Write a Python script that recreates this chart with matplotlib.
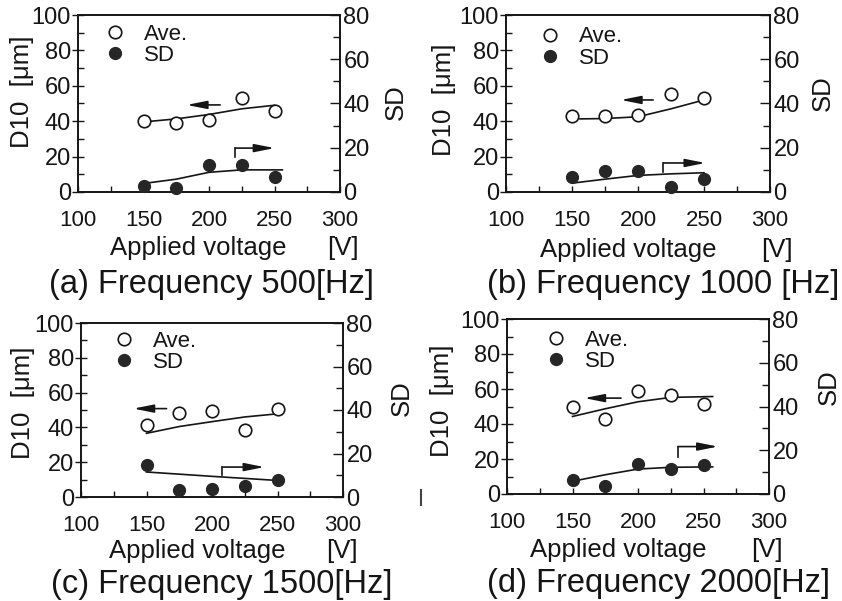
import matplotlib
matplotlib.use("Agg")
import matplotlib.pyplot as plt
from matplotlib.ticker import MultipleLocator
from matplotlib.lines import Line2D

plt.rcParams['font.family'] = ['Liberation Sans', 'DejaVu Sans']

INK = '#151515'

# ---------------- data ----------------
voltage = [150, 175, 200, 225, 250]

ave_a = [40.0, 39.0, 40.5, 53.0, 45.5]
sd_a = [2.8, 2.0, 12.0, 12.0, 7.0]
fit_ave_a_x = [156, 175, 200, 225, 250]
fit_ave_a = [40.0, 41.3, 43.8, 47.0, 49.0]
fit_sd_a_x = [152, 175, 200, 225, 256]
fit_sd_a = [4.0, 5.8, 8.9, 10.0, 10.0]

ave_b = [43.0, 43.0, 43.3, 55.4, 53.0]
sd_b = [6.6, 9.5, 9.5, 2.2, 6.0]
fit_ave_b_x = [156, 175, 200, 225, 250]
fit_ave_b = [41.3, 41.5, 42.5, 47.0, 52.0]
fit_sd_b_x = [150, 175, 200, 225, 250]
fit_sd_b = [4.0, 5.8, 7.5, 8.2, 8.7]

ave_c = [41.2, 48.3, 49.2, 38.7, 50.7]
sd_c = [14.6, 3.2, 3.8, 5.1, 7.8]
fit_ave_c_x = [150, 175, 200, 225, 250]
fit_ave_c = [36.6, 40.5, 43.3, 46.0, 47.8]
fit_sd_c_x = [150, 200, 250]
fit_sd_c = [11.5, 9.5, 7.6]

ave_d = [49.7, 43.0, 59.0, 56.7, 51.3]
sd_d = [6.5, 3.6, 13.9, 11.3, 13.3]
fit_ave_d_x = [150, 175, 200, 225, 257]
fit_ave_d = [44.3, 48.7, 52.7, 55.2, 55.7]
fit_sd_d_x = [150, 175, 200, 225, 257]
fit_sd_d = [5.8, 8.8, 11.4, 12.2, 12.4]

titles = ['(a) Frequency 500[Hz]', '(b) Frequency 1000 [Hz]',
          '(c) Frequency 1500[Hz]', '(d) Frequency 2000[Hz]']
x_ticks = [100, 150, 200, 250, 300]
left_ticks = [0, 20, 40, 60, 80, 100]
right_ticks = [0, 20, 40, 60, 80]

# ---------------- layout (pixel positions in the 842x601 figure) ----------------
W, H = 842, 601
axes_px = [(78, 15, 340, 192), (506, 15, 770, 192),
           (81, 323, 343, 497), (507, 319, 769, 494)]
# left arrow: (y, x_from, x_to); bracket arrow: (x, y0, y1, x_end)  [left-axis data units]
left_arrows = [(49.2, 208.5, 183), (52, 211.5, 187), (50.8, 165.3, 140), (54.8, 187, 159)]
right_arrows = [(220, 19.9, 24.8, 250), (219.3, 11.1, 16.4, 251), (208, 12.5, 17.2, 240), (230.4, 21.4, 27.1, 261)]
legend_px = [(115, 45), (550.3, 47.5), (124, 351.7), (556, 350.8)]
xlabel_px = [(198, 255), (628.5, 256.7), (197.5, 558.3), (618, 556.7)]
unit_px = [(343, 255), (777, 256.7), (342, 558.3), (767, 556.7)]
ylabel_px = [(22, 92), (444, 100), (23, 403), (442, 401)]
sdlabel_px = [(396, 102), (823, 93), (402, 398), (829, 387)]
title_px = [(211.7, 292.5), (663, 292.5), (221.7, 593.5), (659, 592)]

panels = [
    (ave_a, sd_a, fit_ave_a_x, fit_ave_a, fit_sd_a_x, fit_sd_a),
    (ave_b, sd_b, fit_ave_b_x, fit_ave_b, fit_sd_b_x, fit_sd_b),
    (ave_c, sd_c, fit_ave_c_x, fit_ave_c, fit_sd_c_x, fit_sd_c),
    (ave_d, sd_d, fit_ave_d_x, fit_ave_d, fit_sd_d_x, fit_sd_d),
]

fig = plt.figure(figsize=(W / 100, H / 100), dpi=100)
fig.patch.set_facecolor('white')

def fx(x):
    return x / W

def fy(y):
    return 1 - y / H

XTICK_FS = 16
YTICK_FS = 17
LEG_FS = 16
LAB_FS = 18.5
TITLE_FS = 23.5

ARROW = dict(arrowstyle='-|>,head_length=1.1,head_width=0.22',
             color=INK, lw=1.2, shrinkA=0, shrinkB=0, mutation_scale=11)

for i, (ave, sd, fax, fay, fsx, fsy) in enumerate(panels):
    l, t, r, b = axes_px[i]
    ax = fig.add_axes([fx(l), fy(b), (r - l) / W, (b - t) / H])
    ax2 = ax.twinx()

    ax.set_xlim(100, 300)
    ax.set_ylim(0, 100)
    ax2.set_ylim(0, 80)
    ax.set_xticks(x_ticks)
    ax.xaxis.set_minor_locator(MultipleLocator(25))
    ax.set_yticks(left_ticks)
    ax.yaxis.set_minor_locator(MultipleLocator(10))
    ax2.set_yticks(right_ticks)
    ax2.yaxis.set_minor_locator(MultipleLocator(10))

    for a in (ax, ax2):
        for s in a.spines.values():
            s.set_linewidth(1.2)
            s.set_color(INK)
    ax.tick_params(axis='x', which='both', direction='in', length=4.5, width=1.0,
                   top=False, pad=13, labelsize=XTICK_FS, colors=INK)
    ax.tick_params(axis='y', which='major', direction='inout', length=8, width=1.0,
                   pad=1, labelsize=YTICK_FS, colors=INK)
    ax.tick_params(axis='y', which='minor', direction='in', length=4.5, width=1.0, colors=INK)
    ax2.tick_params(axis='y', which='major', direction='in', length=7, width=1.0,
                    pad=2.5, labelsize=YTICK_FS, colors=INK)
    ax2.tick_params(axis='y', which='minor', direction='in', length=5, width=1.0, colors=INK)

    # fitted curves
    ax.plot(fax, fay, color=INK, lw=1.2, zorder=2)
    ax2.plot(fsx, fsy, color=INK, lw=1.2, zorder=2)
    # data points
    ax.plot(voltage, ave, linestyle='none', marker='o', ms=9, mfc='white',
            mec=INK, mew=1.2, zorder=3, clip_on=False)
    ax2.plot(voltage, sd, linestyle='none', marker='o', ms=8.5, mfc='#262626',
             mec='#262626', zorder=3, clip_on=False)

    # arrows
    ya, xa0, xa1 = left_arrows[i]
    ax.annotate('', xy=(xa1, ya), xytext=(xa0, ya), arrowprops=ARROW)
    xb, yb0, yb1, xb1 = right_arrows[i]
    ax.plot([xb, xb], [yb0, yb1], color=INK, lw=1.2)
    ax.annotate('', xy=(xb1, yb1), xytext=(xb, yb1), arrowprops=ARROW)

    # legend
    lx, ly = legend_px[i]
    h1 = Line2D([], [], linestyle='none', marker='o', ms=9, mfc='white', mec=INK, mew=1.2)
    h2 = Line2D([], [], linestyle='none', marker='o', ms=8.5, mfc='#262626', mec='#262626')
    hl = 1.0
    em = LEG_FS * 100 / 72
    ax2.legend([h1, h2], ['Ave.', 'SD'], loc='center left',
               bbox_to_anchor=(fx(lx - hl * em / 2), fy(ly)),
               bbox_transform=fig.transFigure, frameon=False, fontsize=LEG_FS,
               handlelength=hl, handletextpad=0.8, labelspacing=0.0,
               borderpad=0, borderaxespad=0, labelcolor=INK)

    # labels
    x0, y0 = xlabel_px[i]
    fig.text(fx(x0), fy(y0), 'Applied voltage', ha='center', va='baseline',
             fontsize=LAB_FS, color=INK)
    x0, y0 = unit_px[i]
    fig.text(fx(x0), fy(y0), '[V]', ha='center', va='baseline', fontsize=LAB_FS, color=INK)
    x0, y0 = ylabel_px[i]
    fig.text(fx(x0), fy(y0), 'D10  [μm]', ha='center', va='center', rotation=90,
             fontsize=LAB_FS, color=INK)
    x0, y0 = sdlabel_px[i]
    fig.text(fx(x0), fy(y0), 'SD', ha='center', va='center', rotation=90,
             fontsize=LAB_FS, color=INK)
    x0, y0 = title_px[i]
    fig.text(fx(x0), fy(y0), titles[i], ha='center', va='baseline',
             fontsize=TITLE_FS, color=INK)

# small scan mark between the lower panels
fig.add_artist(Line2D([fx(421), fx(421)], [fy(490), fy(505)], color='#444444', lw=1.5))

fig.savefig('out.png', dpi=100, facecolor='white')
